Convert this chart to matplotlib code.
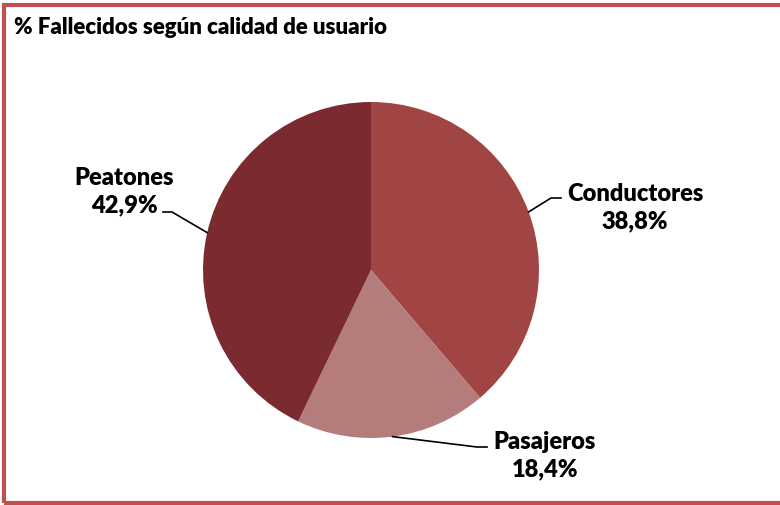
import numpy as np
import matplotlib
matplotlib.use("Agg")
import matplotlib.pyplot as plt
from matplotlib.patches import Rectangle

# data
categories = ["Conductores", "Pasajeros", "Peatones"]
values = [38.8, 18.4, 42.9]
labels = ["38,8%", "18,4%", "42,9%"]
colors = ["#A04543", "#B47D7C", "#7B2B2F"]

title = "% Fallecidos según calidad de usuario"

plt.rcParams['font.family'] = ['Lato', 'DejaVu Sans']

W, H = 780, 505
fig = plt.figure(figsize=(W / 100, H / 100), dpi=100)
ax = fig.add_axes([0, 0, 1, 1])

# pie in pixel coords (y axis flipped, so counterclock=True draws clockwise on screen)
cx, cy, r = 371, 270, 168
wedges, _ = ax.pie(values, colors=colors, startangle=-90, counterclock=True,
                   center=(cx, cy), radius=r, frame=True,
                   wedgeprops=dict(linewidth=0))
ax.set_xlim(0, W)
ax.set_ylim(H, 0)
ax.set_aspect("auto")
ax.axis("off")

# label positions (text centre, elbow, end of leader)
label_pos = [(635, 208), (545, 456), (124, 192)]
elbows = [((551, 198), (561, 198)), ((477, 447), (487, 447)), ((172, 212), (163, 212))]

for w, cat, lab, (tx, ty), (e1, e2) in zip(wedges, categories, labels, label_pos, elbows):
    ang = np.deg2rad((w.theta1 + w.theta2) / 2)
    sx = cx + r * np.cos(ang)
    sy = cy + r * np.sin(ang)
    ax.plot([sx, e1[0], e2[0]], [sy, e1[1], e2[1]], color="black", lw=1.2)
    ax.text(tx, ty, f"{cat}\n{lab}", ha="center", va="center", fontsize=17,
            fontweight="heavy", linespacing=1.3)

ax.text(14, 28, title, ha="left", va="center", fontsize=16, fontweight="heavy")

# chart border
fig.patches.append(Rectangle((4 / W, 2 / H), 1.2, 1 - 7 / H, transform=fig.transFigure,
                             fill=False, edgecolor="#C0504D", linewidth=3))

fig.savefig("out.png", dpi=100)
